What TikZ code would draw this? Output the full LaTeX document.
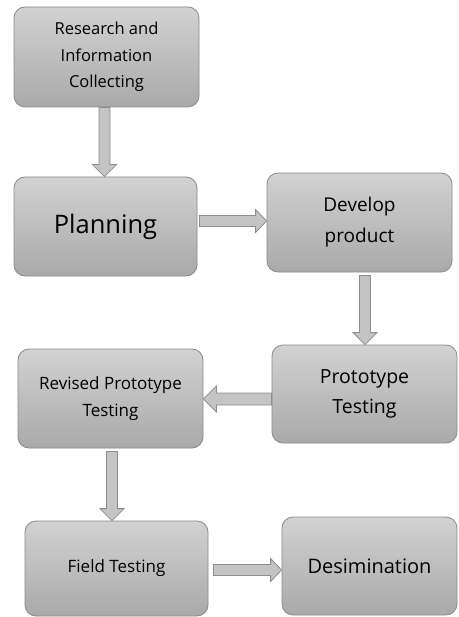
\documentclass[tikz,border=0pt]{standalone}
\usepackage{fontspec}
\setmainfont{Open Sans}
\usetikzlibrary{calc}
\definecolor{boxtop}{HTML}{D2D2D2}
\definecolor{boxbot}{HTML}{A9A9A9}
\definecolor{boxline}{HTML}{8A8A8A}
\definecolor{arrfill}{HTML}{C4C4C4}
\definecolor{arrline}{HTML}{8E8E8E}
\tikzset{
  box/.style={draw=boxline, line width=0.8pt, rounded corners=11pt,
    top color=boxtop, bottom color=boxbot, align=center, inner sep=0pt,
    text=black},
  barrow/.style={draw=arrline, fill=arrfill, line width=0.8pt, line join=miter}
}
% block arrows: #1 start (shaft centre), #2 tip
\newcommand\barrowdown[2]{\draw[barrow] let \p1=(#1), \p2=(#2) in
  (\x1-5.5,\y1) -- (\x1-5.5,\y2+12) -- (\x1-12,\y2+12) -- (\x1,\y2)
  -- (\x1+12,\y2+12) -- (\x1+5.5,\y2+12) -- (\x1+5.5,\y1) -- cycle;}
\newcommand\barrowright[2]{\draw[barrow] let \p1=(#1), \p2=(#2) in
  (\x1,\y1+5.5) -- (\x2-11,\y1+5.5) -- (\x2-11,\y1+11.5) -- (\x2,\y1)
  -- (\x2-11,\y1-11.5) -- (\x2-11,\y1-5.5) -- (\x1,\y1-5.5) -- cycle;}
\newcommand\barrowleft[2]{\draw[barrow] let \p1=(#1), \p2=(#2) in
  (\x1,\y1+6) -- (\x2+13,\y1+6) -- (\x2+13,\y1+13) -- (\x2,\y1)
  -- (\x2+13,\y1-13) -- (\x2+13,\y1-6) -- (\x1,\y1-6) -- cycle;}
\begin{document}
\begin{tikzpicture}[x=1pt,y=1pt]
\useasboundingbox[fill=white] (0,0) rectangle (458,-617);
\node[box, minimum width=185, minimum height=100,
  font=\fontsize{16.5}{26.5}\selectfont] (b1) at (106.5,-57)
  {Research and\\Information\\Collecting};
\node[box, minimum width=183, minimum height=99,
  font=\fontsize{25.5}{30}\selectfont] (b2) at (105.5,-226.5) {Planning};
\node[box, minimum width=185, minimum height=99,
  font=\fontsize{19}{31}\selectfont] (b3) at (359.5,-222.5) {Develop\\product};
\node[box, minimum width=185, minimum height=98,
  font=\fontsize{19.5}{30}\selectfont] (b4) at (364.5,-394) {Prototype\\Testing};
\node[box, minimum width=185, minimum height=99,
  font=\fontsize{17}{27}\selectfont] (b5) at (110.5,-398.5)
  {Revised Prototype\\Testing};
\node[box, minimum width=183, minimum height=95,
  font=\fontsize{17}{20}\selectfont] (b6) at (116.5,-568.5) {Field Testing};
\node[box, minimum width=175, minimum height=98,
  font=\fontsize{20}{24}\selectfont] (b7) at (369.5,-566) {Desimination};
\barrowdown{$(b1.south)+(-2,0)$}{b2.north}
\barrowright{$(b2.east)+(2,5.5)$}{b3.west}
\barrowdown{$(b3.south)+(5.5,-3)$}{b4.north}
\barrowleft{$(b4.west)+(0,-5)$}{b5.east}
\barrowdown{$(b5.south)+(1.5,-3)$}{b6.north}
\barrowright{$(b6.east)+(5,-1.5)$}{b7.west}
\end{tikzpicture}
\end{document}
